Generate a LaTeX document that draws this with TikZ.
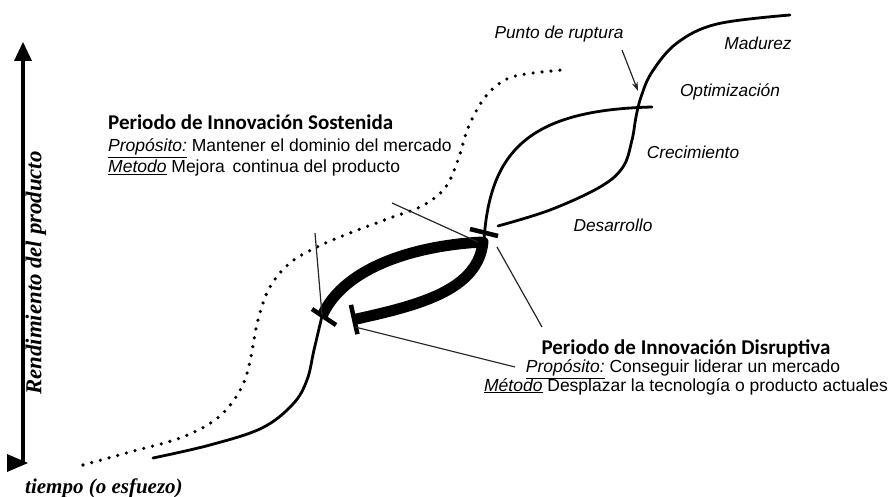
\documentclass[tikz,border=0pt]{standalone}
\usepackage{fontspec}
\setmainfont{Liberation Sans}
\newfontfamily\headfont{Carlito}
\newfontfamily\serifit{Liberation Serif}
\usetikzlibrary{arrows.meta}
\begin{document}
\begin{tikzpicture}[x=1pt,y=-1pt,
  curve/.style={line width=2.8pt, line cap=round},
  lead/.style={line width=1.2pt, black!85},
  tickbar/.style={line width=4.5pt},
  dots/.style={line width=3.6pt, line cap=round, dash pattern=on 0pt off 9pt},
  lbl/.style={font=\fontsize{17.3}{20}\selectfont\itshape, inner sep=0pt},
  head/.style={font=\headfont\bfseries\fontsize{21}{24}\selectfont, inner sep=0pt},
  body/.style={font=\fontsize{17.5}{20}\selectfont, inner sep=0pt},
  axlbl/.style={font=\serifit\bfseries\itshape\fontsize{21}{24}\selectfont, inner sep=0pt},
]
\useasboundingbox (0,0) rectangle (895,497);

% axis
\coordinate (ytop) at (23,56);
\coordinate (ybot) at (23,463);
\draw[line width=4.5pt] (ybot) -- (ytop);
\fill (23,42) -- (32,61) -- (14,61) -- cycle;
\fill (7,454) -- (28,463) -- (7,472) -- cycle;
\node[axlbl, font=\serifit\bfseries\itshape\fontsize{22.8}{26}\selectfont, rotate=90] (yl) at (36,273) {Rendimiento del producto};
\node[axlbl, anchor=base west] (xl) at (25,493) {tiempo (o esfuezo)};

% dotted curve
\draw[dots] plot[smooth, tension=0.6] coordinates {(83,465) (130,452) (180,438) (215,420) (236,397) (248,370) (258,320) (270,287) (290,263) (317,247) (350,233) (390,218) (422,206) (445,188) (458,160) (468,128) (483,100) (500,83) (520,75) (562,70)};

% curve A lower part
\draw[curve] plot[smooth, tension=0.6] coordinates {(153,458) (210,445) (262,428) (293,404) (307,380) (314,350) (322,316)};
% thick loop
\draw[line width=11pt, line join=round, -{Bar[width=30pt, line width=4.5pt]}] (322,316) .. controls (345,265) and (420,245) .. (483,242) .. controls (478,290) and (420,305) .. (352,320);
% curve A upper part
\draw[curve] (484,240) .. controls (490,150) and (530,110) .. (652,107);
% curve B
\draw[curve] plot[smooth, tension=0.6] coordinates {(498,226) (550,210) (600,187) (623,167) (632,140) (636,117) (641,97) (652,72) (677,43) (717,24) (790,15)};

% ticks
\coordinate (rt1) at (470,229);
\coordinate (rt2) at (498,236);
\coordinate (lt1) at (312,309);
\coordinate (lt2) at (336,325);
\draw[tickbar] (rt1) -- (rt2);
\draw[tickbar] (lt1) -- (lt2);

% texts block 1
\node[head, anchor=base west] (sh) at (108,130) {Periodo de Innovación Sostenida};
\node[body, anchor=base west] (sp) at (108,152) {\underline{\textit{Propósito:}} Mantener el dominio del mercado};
\node[body, anchor=base west] (sm) at (108,173) {\underline{\textit{Metodo}} Mejora\ \,continua del producto};

% texts block 2
\node[head, anchor=base] (dh) at (686,355) {Periodo de Innovación Disruptiva};
\node[body, anchor=base] (dp) at (683,373) {\underline{\textit{Propósito:}} Conseguir liderar un mercado};
\node[body, anchor=base] (dm) at (686,391) {\underline{\textit{Método}} Desplazar la tecnología o producto actuales};

% italic labels
\node[lbl] (pr) at (559,34) {Punto de ruptura};
\node[lbl] (mad) at (758,43) {Madurez};
\node[lbl] (opt) at (730,92) {Optimización};
\node[lbl] (cre) at (693,152) {Crecimiento};
\node[lbl] (des) at (613,225) {Desarrollo};

% leader lines
\coordinate (a1) at (392,203);
\coordinate (a2) at (478,242);
\coordinate (b1) at (315,233);
\coordinate (b2) at (322,315);
\coordinate (c1) at (542,327);
\coordinate (c2) at (497,247);
\coordinate (d1) at (515,367);
\coordinate (d2) at (355,327);
\coordinate (p1) at (622,50);
\coordinate (p2) at (638,91);
\draw[lead] (a1) -- (a2);
\draw[lead] (b1) -- (b2);
\draw[lead] (c1) -- (c2);
\draw[lead] (d1) -- (d2);
\draw[lead, -{Stealth[length=9pt,width=6pt]}] (p1) -- (p2);
\end{tikzpicture}
\end{document}
